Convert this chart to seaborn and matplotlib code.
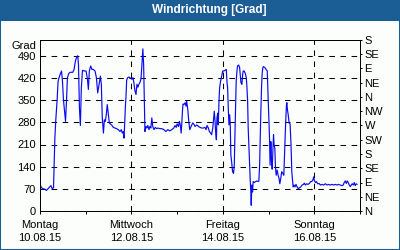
import numpy as np
import pandas as pd
import matplotlib
matplotlib.use("Agg")
import matplotlib.pyplot as plt
import matplotlib.transforms as mtrans
from matplotlib.patches import Rectangle
import seaborn as sns

# ---------------- data ----------------
title = "Windrichtung [Grad]"
y_unit = "Grad"
day_labels = ["Montag\n10.08.15", "Mittwoch\n12.08.15", "Freitag\n14.08.15", "Sonntag\n16.08.15"]
day_label_hours = [0, 48, 96, 144]
day_minor_hours = [24, 72, 120, 168]
deg_ticks = [0, 70, 140, 210, 280, 350, 420, 490]
compass_ticks = [0, 45, 90, 135, 180, 225, 270, 315, 360, 405, 450, 495, 540]
compass_labels = ["N", "NE", "E", "SE", "S", "SW", "W", "NW", "N", "NE", "E", "SE", "S"]

# hours since 10.08.15 00:00 and wind direction in degrees (unwrapped), per segment
h_mon = [0, 1.15, 2.5, 3.4, 4.3, 5.7, 6.4, 7.1, 7.3, 7.8, 8.3, 9.0, 9.5, 10.0, 10.6, 11.3, 11.8,
         12.3, 12.8, 13.4, 13.9, 14.4, 15.1, 15.8, 17.2, 17.9, 18.6, 19.3, 19.8, 20.2, 20.7, 21.2,
         21.7, 22.3, 23.5, 24.2, 24.9, 25.4, 25.9, 26.6, 27.3, 28.0, 28.9, 29.6, 30.3, 31.0, 31.7,
         32.2, 32.7, 33.3]
v_mon = [82, 71, 69, 65, 71, 80, 71, 73, 116, 230, 288, 352, 410, 421, 432, 442, 410,
         352, 320, 283, 347, 421, 434, 438, 438, 447, 474, 487, 490, 463, 326, 270,
         389, 444, 442, 442, 416, 384, 442, 458, 447, 447, 442, 421, 373, 400, 426,
         400, 294, 246]

h_tue = [33.8, 34.3, 34.8, 35.3, 35.9, 36.4, 36.9, 37.8, 38.5, 39.4, 40.2, 41.1, 42.0, 42.7,
         43.2, 43.7, 44.1, 44.4, 44.8, 45.1, 45.5, 46.0, 46.7, 47.6, 48.3, 48.8, 49.3, 49.8,
         50.4, 50.9, 51.4, 51.9, 52.4, 53.0, 53.3, 53.7, 54.0, 54.4, 54.7, 55.1, 55.6, 56.1,
         56.6, 57.2, 57.7, 58.2, 58.7, 59.2, 59.8, 60.5, 61.2, 62.0, 62.9]
v_tue = [288, 283, 304, 336, 304, 278, 275, 270, 264, 262, 260, 257, 251, 257,
         246, 251, 230, 267, 326, 357, 413, 421, 423, 419, 416, 421, 405, 381,
         368, 400, 391, 400, 405, 416, 442, 485, 512, 463, 379, 251, 267, 262,
         270, 257, 267, 262, 294, 267, 257, 264, 260, 262, 260]

h_thu = [64.0, 65.0, 66.1, 67.1, 68.1, 69.2, 70.2, 70.9, 71.5, 72.0, 72.7, 73.2, 73.7, 74.1,
         74.4, 74.8, 75.1, 75.6, 76.2, 76.7, 77.0, 77.6, 78.1, 78.6, 79.1, 79.7, 80.2, 80.7,
         81.4, 82.3, 83.2, 84.0, 84.9, 85.8, 86.6, 87.2, 87.7, 88.4, 88.9, 89.6, 90.1, 90.7,
         91.2, 91.5, 91.9, 92.2, 92.6, 92.9, 93.3, 93.6, 94.0, 94.3, 94.8, 95.4, 95.9]
v_thu = [260, 257, 251, 257, 253, 257, 262, 270, 264, 275, 267, 283, 270, 246,
         272, 317, 338, 336, 342, 331, 347, 320, 283, 257, 264, 272, 278, 275,
         267, 272, 267, 264, 262, 262, 264, 257, 270, 262, 251, 246, 241, 262,
         294, 315, 283, 251, 225, 294, 309, 272, 352, 389, 410, 426, 442]

h_fri = [96.4, 97.1, 97.8, 98.2, 98.5, 98.9, 99.2, 99.6, 99.9, 100.2, 100.6, 101.1, 101.6,
         102.0, 102.3, 102.7, 103.0, 103.4, 103.7, 104.3, 104.8, 105.1, 105.5, 106.0, 106.4,
         106.7, 107.2, 107.8, 108.3, 108.6, 109.0, 109.3, 109.7, 110.0, 110.4, 110.7, 110.9,
         111.2, 111.6, 111.9, 112.5, 113.2, 113.9, 114.6, 114.9, 115.3, 115.6, 115.9, 116.3,
         116.6, 117.0, 117.3, 118.0, 118.7, 119.3, 119.8, 120.1, 120.5, 120.8, 121.2, 121.5,
         121.9, 122.2, 122.6, 122.9, 123.3, 123.6, 124.0, 124.5, 125.0, 125.5, 125.9, 126.4,
         126.9, 127.5, 128.0, 128.3, 128.7, 129.0, 129.4, 129.6, 129.9, 130.3, 130.6]
v_fri = [442, 444, 447, 405, 389, 315, 272, 304, 267, 177, 156, 124, 119,
         145, 230, 326, 410, 442, 458, 461, 453, 432, 405, 400, 432,
         442, 442, 434, 421, 395, 347, 262, 198, 145, 93, 60, 18,
         82, 60, 93, 90, 93, 95, 93, 95, 145, 230, 304, 389,
         432, 453, 456, 453, 447, 442, 352, 304, 230, 145, 219, 166,
         132, 177, 241, 209, 198, 140, 113, 129, 113, 103, 86, 103,
         124, 119, 113, 166, 230, 283, 336, 342, 320, 304, 288]

h_sun = [130.8, 131.3, 131.8, 132.2, 132.5, 132.9, 133.4, 133.9, 134.4, 135.0, 135.5, 136.2,
         136.9, 137.6, 138.3, 138.8, 139.3, 140.0, 140.7, 141.4, 142.1, 142.6, 143.2, 143.7,
         144.0, 144.6, 145.1, 145.8, 146.5, 147.2, 148.1, 148.9, 149.8, 150.7, 151.5, 152.4,
         153.3, 154.2, 155.0, 155.9, 156.8, 157.6, 158.5, 159.2, 159.7, 160.3, 160.8, 161.3,
         161.8, 162.4, 162.9, 163.4, 163.9, 164.5, 165.0, 165.5, 166.0, 166.5]
v_sun = [278, 275, 207, 124, 103, 76, 82, 76, 84, 76, 71, 73,
         76, 82, 84, 88, 82, 86, 84, 87, 93, 93, 97, 108,
         97, 90, 93, 86, 87, 82, 84, 82, 86, 82, 84, 82,
         84, 82, 84, 82, 84, 82, 80, 82, 90, 95, 87, 95,
         90, 82, 77, 82, 86, 82, 90, 80, 86, 84]

df = pd.DataFrame({
    "hours": h_mon + h_tue + h_thu + h_fri + h_sun,
    "deg": v_mon + v_tue + v_thu + v_fri + v_sun,
})

# ---------------- style ----------------
BLUE = "#1b5e96"
BG = "#fbfefb"
LINE = "#0a0af0"
PX = 0.72  # one pixel in points at 100 dpi

sns.set_theme(style="white")
plt.rcParams['font.family'] = ['Liberation Sans', 'DejaVu Sans']
plt.rcParams['font.size'] = 8

fig = plt.figure(figsize=(4, 2.5), dpi=100)
fig.patch.set_facecolor(BG)

ax = fig.add_axes([40 / 400, (250 - 211) / 250, 320 / 400, 171 / 250])
ax.set_facecolor(BG)

sns.lineplot(data=df, x="hours", y="deg", ax=ax, color=LINE, linewidth=0.85,
             estimator=None, sort=False, zorder=3)

ax.set_xlim(0, 168)
ax.set_ylim(0, 540)
ax.set_xlabel("")
ax.set_ylabel("")

ax.set_xticks(day_label_hours)
ax.set_xticklabels(day_labels, linespacing=1.45)
ax.set_xticks(day_minor_hours, minor=True)
ax.set_yticks(deg_ticks)
ax.set_yticklabels([str(t) for t in deg_ticks])

dash = (0, (4 / 0.75, 4 / 0.75))
ax.grid(True, which="major", axis="both", color="black", linewidth=0.75,
        linestyle=dash, zorder=1)
ax.tick_params(axis="x", which="both", direction="out", length=3 * PX, width=PX,
               color="black", pad=4, labelsize=8, labelcolor="black", bottom=True)
ax.tick_params(axis="y", which="both", length=0, pad=3, labelsize=8, labelcolor="black")

for s in ax.spines.values():
    s.set_color("black")
    s.set_linewidth(PX)
    s.set_visible(True)

ax2 = ax.twinx()
ax2.set_ylim(0, 540)
ax2.set_yticks(compass_ticks)
ax2.set_yticklabels(compass_labels)
ax2.tick_params(axis="y", direction="out", length=2.5 * PX, width=PX, color="black",
                pad=1.5, labelsize=8, labelcolor="black", right=True)
ax2.grid(False)
for s in ax2.spines.values():
    s.set_color("black")
    s.set_linewidth(PX)

trans = mtrans.blended_transform_factory(ax.transAxes, ax.transData)
ax.text(-0.012, 521, y_unit, transform=trans, ha="right", va="center",
        fontsize=8, color="black")

# title bar and frame
fig.add_artist(Rectangle((0, 1 - 21 / 250), 1, 21 / 250, transform=fig.transFigure,
                         facecolor=BLUE, edgecolor="none", zorder=0))
fig.text(209.5 / 400, 1 - 10.5 / 250, title, ha="center", va="center",
         color="white", fontsize=8.5, fontweight="bold")
fig.add_artist(Rectangle((0, 0), 1, 1, transform=fig.transFigure, fill=False,
                         edgecolor=BLUE, linewidth=1.5, zorder=10))

fig.savefig("out.png", dpi=100, facecolor=fig.get_facecolor())
